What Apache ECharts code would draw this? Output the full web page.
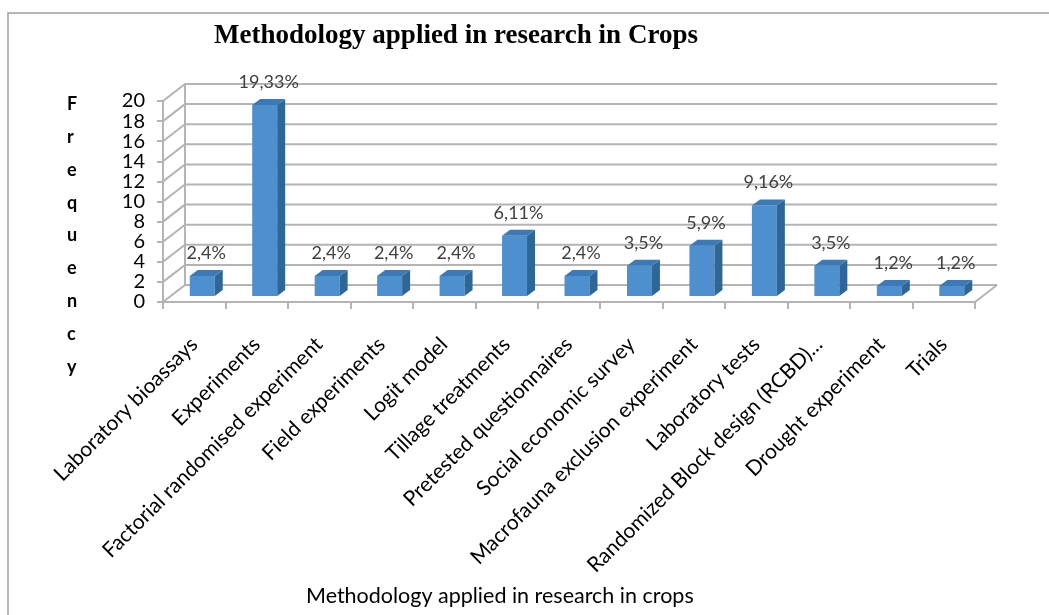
<!DOCTYPE html>
<html><head><meta charset="utf-8">
<script src="https://cdn.jsdelivr.net/npm/echarts@6/dist/echarts.min.js"></script>
<style>html,body{margin:0;padding:0;background:#fff}#c{width:1049px;height:615px}</style>
</head><body><div id="c"></div>
<script>
const categories = ["Laboratory bioassays","Experiments","Factorial randomised experiment","Field experiments","Logit model","Tillage treatments","Pretested questionnaires","Social economic survey","Macrofauna exclusion experiment","Laboratory tests","Randomized Block design (RCBD)...","Drought experiment","Trials"];
const frequency = [2,19,2,2,2,6,2,3,5,9,3,1,1];
const percentLabels = ["2,4%","19,33%","2,4%","2,4%","2,4%","6,11%","2,4%","3,5%","5,9%","9,16%","3,5%","1,2%","1,2%"];
const yTicks = [0,2,4,6,8,10,12,14,16,18,20];

const FONT = 'Lato, "Liberation Sans", sans-serif';
const GRID_COLOR = '#b4b4b4';
const WALL_DX = 22, WALL_DY = -17;
const BAR_SHIFT_X = 8, BAR_SHIFT_Y = -6, DEPTH_X = 8, DEPTH_Y = -6;

const chart = echarts.init(document.getElementById('c'));

function renderGrid(params, api) {
  const cs = params.coordSys;
  const v = api.value(1);
  const y = api.coord([0, v])[1];
  const x0 = cs.x, x1 = cs.x + cs.width;
  const children = [{
    type: 'polyline',
    shape: { points: [[x0, y], [x0 + WALL_DX, y + WALL_DY], [x1 + WALL_DX, y + WALL_DY]] },
    style: { stroke: GRID_COLOR, lineWidth: 2, fill: null }
  }];
  if (v === 0) {
    const yTop = api.coord([0, yTicks[yTicks.length - 1]])[1];
    children.push({
      type: 'line',
      shape: { x1: x0 + WALL_DX, y1: y + WALL_DY, x2: x0 + WALL_DX, y2: yTop + WALL_DY },
      style: { stroke: GRID_COLOR, lineWidth: 2 }
    });
    children.push({
      type: 'line',
      shape: { x1: x1, y1: y, x2: x1 + WALL_DX, y2: y + WALL_DY },
      style: { stroke: GRID_COLOR, lineWidth: 2 }
    });
  }
  return { type: 'group', children };
}

function renderBar(params, api) {
  const i = api.value(0), v = api.value(1);
  const base = api.coord([i, 0]);
  const top = api.coord([i, v]);
  const bw = api.size([1, 0])[0] * 0.4;
  const cx = base[0] + BAR_SHIFT_X;
  const xa = cx - bw / 2, xb = cx + bw / 2;
  const yb = base[1] + BAR_SHIFT_Y, yt = top[1] + BAR_SHIFT_Y;
  return {
    type: 'group',
    children: [
      { type: 'polygon', shape: { points: [[xa, yb], [xb, yb], [xb, yt], [xa, yt]] }, style: { fill: '#4d90cd' } },
      { type: 'polygon', shape: { points: [[xb, yb], [xb + DEPTH_X, yb + DEPTH_Y], [xb + DEPTH_X, yt + DEPTH_Y], [xb, yt]] }, style: { fill: '#2f6698' } },
      { type: 'polygon', shape: { points: [[xa, yt], [xb, yt], [xb + DEPTH_X, yt + DEPTH_Y], [xa + DEPTH_X, yt + DEPTH_Y]] }, style: { fill: '#3b7ab6' } },
      { type: 'text', style: { text: percentLabels[params.dataIndex], x: cx + DEPTH_X / 2, y: yt + DEPTH_Y - 17, align: 'center', verticalAlign: 'middle', font: '18px ' + FONT, fill: '#404040' } }
    ]
  };
}

chart.setOption({
  animation: false,
  backgroundColor: '#fff',
  title: {
    text: 'Methodology applied in research in Crops',
    left: 451, top: 18, textAlign: 'center',
    textStyle: { fontFamily: '"Liberation Serif", "DejaVu Serif", serif', fontWeight: 'bold', fontSize: 27, color: '#000' }
  },
  graphic: [
    { type: 'rect', shape: { x: 8, y: 13, width: 1100, height: 700 }, style: { fill: null, stroke: '#a0a0a0', lineWidth: 1.5 }, z: 100 },
    { type: 'text', left: 67, top: 88, style: { text: 'F\nr\ne\nq\nu\ne\nn\nc\ny', font: 'bold 18px ' + FONT, lineHeight: 32.8, fill: '#000', align: 'center' } },
    { type: 'text', left: 306, top: 585, style: { text: 'Methodology applied in research in crops', font: '21.5px ' + FONT, fill: '#000' } }
  ],
  grid: { left: 163, right: 74, top: 101, bottom: 313, containLabel: false },
  xAxis: {
    type: 'category', data: categories, boundaryGap: true,
    axisLine: { show: true, lineStyle: { color: GRID_COLOR, width: 2 } },
    axisTick: { show: true, length: 7, lineStyle: { color: GRID_COLOR, width: 2 } },
    axisLabel: { interval: 0, rotate: 45, margin: 39, fontFamily: FONT, fontSize: 21, color: '#000' },
    splitLine: { show: false }
  },
  yAxis: {
    type: 'value', min: 0, max: 20, interval: 2,
    axisLine: { show: true, lineStyle: { color: GRID_COLOR, width: 2 } },
    axisTick: { show: true, length: 6, lineStyle: { color: GRID_COLOR, width: 2 } },
    axisLabel: { margin: 18, fontFamily: FONT, fontSize: 20, color: '#000', lineHeight: 19 },
    splitLine: { show: false }
  },
  series: [
    { type: 'custom', renderItem: renderGrid, data: yTicks.map(t => [0, t]), z: 1, silent: true },
    { type: 'custom', renderItem: renderBar, data: frequency.map((f, i) => [i, f]), z: 3 }
  ]
});
</script></body></html>
